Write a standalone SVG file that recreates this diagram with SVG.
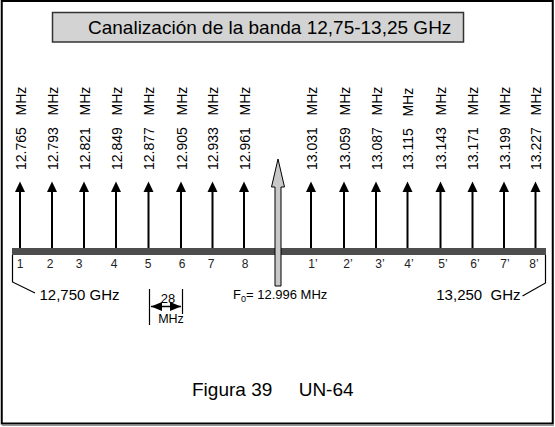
<svg xmlns="http://www.w3.org/2000/svg" width="555" height="427" viewBox="0 0 555 427">
<style>
text{font-family:"Liberation Sans",Arial,sans-serif;fill:#000}
.freq{font-size:14px}
.ch{font-size:12px;fill:#222;text-anchor:middle}
.stem{stroke:#000;stroke-width:2;fill:none}
.thin{stroke:#000;stroke-width:1.2;fill:none}
</style>
<defs>
<marker id="ah" markerUnits="userSpaceOnUse" markerWidth="12" markerHeight="12" viewBox="0 0 12 12" refX="0.5" refY="6" orient="auto">
<path d="M0.5,1 L11,6 L0.5,11 Z" fill="#000"/>
</marker>
<marker id="dh" markerUnits="userSpaceOnUse" markerWidth="12" markerHeight="10" viewBox="0 0 12 10" refX="11" refY="5" orient="auto-start-reverse">
<path d="M0,0.5 L11,5 L0,9.5 Z" fill="#000"/>
</marker>
</defs>
<rect x="1.75" y="1" width="551" height="422.5" fill="#fff" stroke="#000" stroke-width="2"/>
<line x1="2" y1="425.5" x2="554" y2="425.5" stroke="#999" stroke-width="1"/>
<g id="title">
<rect x="52.5" y="12.5" width="411" height="29.5" fill="#d3d3d3" stroke="#333" stroke-width="1.5"/>
<text x="88" y="34" font-size="19">Canalización de la banda 12,75-13,25 GHz</text>
</g>
<g id="bar">
<rect x="12" y="248" width="534" height="7" fill="#4d4d4d"/>
</g>
<g id="connectors">
<line class="stem" x1="20" y1="248" x2="20" y2="192" marker-end="url(#ah)"/>
<line class="stem" x1="52" y1="248" x2="52" y2="192" marker-end="url(#ah)"/>
<line class="stem" x1="84" y1="248" x2="84" y2="192" marker-end="url(#ah)"/>
<line class="stem" x1="116" y1="248" x2="116" y2="192" marker-end="url(#ah)"/>
<line class="stem" x1="148.5" y1="248" x2="148.5" y2="192" marker-end="url(#ah)"/>
<line class="stem" x1="181" y1="248" x2="181" y2="192" marker-end="url(#ah)"/>
<line class="stem" x1="212.5" y1="248" x2="212.5" y2="192" marker-end="url(#ah)"/>
<line class="stem" x1="244" y1="248" x2="244" y2="192" marker-end="url(#ah)"/>
<line class="stem" x1="311" y1="248" x2="311" y2="192" marker-end="url(#ah)"/>
<line class="stem" x1="344" y1="248" x2="344" y2="192" marker-end="url(#ah)"/>
<line class="stem" x1="376" y1="248" x2="376" y2="192" marker-end="url(#ah)"/>
<line class="stem" x1="407.5" y1="248" x2="407.5" y2="192" marker-end="url(#ah)"/>
<line class="stem" x1="440.5" y1="248" x2="440.5" y2="192" marker-end="url(#ah)"/>
<line class="stem" x1="472.5" y1="248" x2="472.5" y2="192" marker-end="url(#ah)"/>
<line class="stem" x1="504" y1="248" x2="504" y2="192" marker-end="url(#ah)"/>
<line class="stem" x1="535.5" y1="248" x2="535.5" y2="192" marker-end="url(#ah)"/>
<polyline class="thin" points="12.5,255 12.5,282 35,293"/>
<polyline class="thin" points="545.5,255 545.5,283 522.5,296"/>
<line class="thin" x1="149.5" y1="289" x2="149.5" y2="325"/>
<line class="thin" x1="182.5" y1="289" x2="182.5" y2="314"/>
<line stroke="#000" stroke-width="1.5" x1="151" y1="306.5" x2="181" y2="306.5" marker-start="url(#dh)" marker-end="url(#dh)"/>
</g>
<g id="f0-arrow">
<polygon points="278,159 284.5,187 281,187 281,286 275,286 275,187 271.5,187" fill="#c8c8c8" stroke="#000" stroke-width="1"/>
</g>
<g id="freq-labels" class="freq">
<text xml:space="preserve" transform="translate(25.5,170) rotate(-90)">12.765   MHz</text>
<text xml:space="preserve" transform="translate(57.5,170) rotate(-90)">12.793   MHz</text>
<text xml:space="preserve" transform="translate(89.5,170) rotate(-90)">12.821   MHz</text>
<text xml:space="preserve" transform="translate(121.5,170) rotate(-90)">12.849   MHz</text>
<text xml:space="preserve" transform="translate(154,170) rotate(-90)">12.877   MHz</text>
<text xml:space="preserve" transform="translate(186.5,170) rotate(-90)">12.905   MHz</text>
<text xml:space="preserve" transform="translate(218,170) rotate(-90)">12.933   MHz</text>
<text xml:space="preserve" transform="translate(249.5,170) rotate(-90)">12.961   MHz</text>
<text xml:space="preserve" transform="translate(316.5,170) rotate(-90)">13.031   MHz</text>
<text xml:space="preserve" transform="translate(349.5,170) rotate(-90)">13.059   MHz</text>
<text xml:space="preserve" transform="translate(381.5,170) rotate(-90)">13.087   MHz</text>
<text xml:space="preserve" transform="translate(413,170) rotate(-90)">13.115   MHz</text>
<text xml:space="preserve" transform="translate(446,170) rotate(-90)">13.143   MHz</text>
<text xml:space="preserve" transform="translate(478,170) rotate(-90)">13.171   MHz</text>
<text xml:space="preserve" transform="translate(509.5,170) rotate(-90)">13.199   MHz</text>
<text xml:space="preserve" transform="translate(541,170) rotate(-90)">13.227   MHz</text>
</g>
<g id="channel-numbers">
<text class="ch" x="20" y="268">1</text>
<text class="ch" x="50" y="268">2</text>
<text class="ch" x="79" y="268">3</text>
<text class="ch" x="114" y="268">4</text>
<text class="ch" x="148" y="268">5</text>
<text class="ch" x="182" y="268">6</text>
<text class="ch" x="211" y="268">7</text>
<text class="ch" x="245" y="268">8</text>
<text class="ch" x="313" y="268">1’</text>
<text class="ch" x="348" y="268">2’</text>
<text class="ch" x="380" y="268">3’</text>
<text class="ch" x="409" y="268">4’</text>
<text class="ch" x="443" y="268">5’</text>
<text class="ch" x="475" y="268">6’</text>
<text class="ch" x="505" y="268">7’</text>
<text class="ch" x="534" y="268">8’</text>
</g>
<g id="band-edges">
<text x="39.5" y="300" font-size="15">12,750 GHz</text>
<text xml:space="preserve" x="520.5" y="300" font-size="15" text-anchor="end">13,250  GHz</text>
</g>
<g id="f0-label">
<text x="233" y="299" font-size="13">F<tspan font-size="9" dy="3">0</tspan><tspan dy="-3">= 12.996 MHz</tspan></text>
</g>
<g id="spacing">
<text x="168" y="303" font-size="13" text-anchor="middle">28</text>
<text x="171" y="323" font-size="12.5" text-anchor="middle">MHz</text>
</g>
<g id="caption">
<text xml:space="preserve" x="192" y="396" font-size="19">Figura 39     UN-64</text>
</g>
</svg>
